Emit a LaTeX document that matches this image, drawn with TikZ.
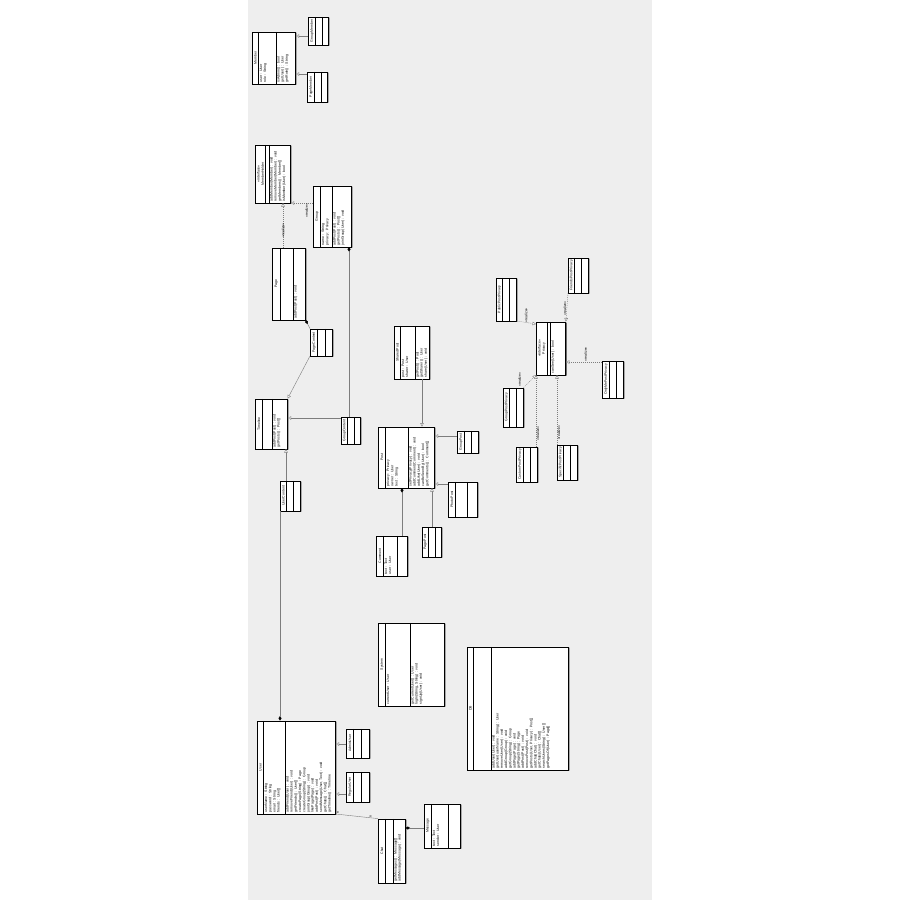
\documentclass[tikz,border=0pt]{standalone}
\usepackage{fontspec}
\setmainfont{Liberation Sans}
\usetikzlibrary{shapes.multipart,arrows.meta,shadows}
\definecolor{canvasgray}{RGB}{238,238,238}
\definecolor{linegray}{RGB}{125,125,125}
\newcommand{\classfont}{\fontsize{3.5}{4.2}\selectfont}
\newcommand{\ctitle}[2]{\parbox[c][#1pt][c]{\linewidth}{\centering #2}}
\newcommand{\cbody}[2]{\parbox[c][#1pt][t]{\linewidth}{\raggedright\leftskip=1.5pt\vspace*{0.8pt}#2}}
\begin{document}
\begin{tikzpicture}[x=1pt,y=-1pt,
  umlclass/.style={rectangle split, rectangle split parts=3, draw=black, fill=white,
    rotate=90, anchor=north west, inner sep=0pt, text width=#1pt, font=\classfont,
    drop shadow={shadow xshift=0.9pt, shadow yshift=-0.9pt, fill=black!85, opacity=1}},
  inherit/.style={draw=linegray, -{Triangle[open, fill=white, length=3.5pt, width=3.5pt]}},
  realize/.style={inherit, dash pattern=on 1pt off 1pt},
  compose/.style={draw=linegray, -{Diamond[length=4.5pt, width=3pt, color=black]}},
  assoc/.style={draw=linegray},
  lbl/.style={font=\classfont, rotate=90, inner sep=0.5pt}]
\useasboundingbox (0,0) rectangle (900,900);
\fill[canvasgray] (248,0) rectangle (652,900);

% members
\node[umlclass=52] (member) at (252,84) {\ctitle{6}{Member}\nodepart{two}\cbody{17}{user : User\\role : String}\nodepart{three}\cbody{19}{isAdmin() : bool\\getUser() : User\\getRole() : String}};
\node[umlclass=28] (groupmember) at (308,45) {\ctitle{7}{GroupMember}\nodepart{two}\cbody{6}{}\nodepart{three}\cbody{6}{}};
\node[umlclass=30] (pagemember) at (307,102) {\ctitle{7}{PageMember}\nodepart{two}\cbody{6}{}\nodepart{three}\cbody{6}{}};

% groups and pages
\node[umlclass=58] (memberholder) at (255,203) {\ctitle{10}{«interface»\\MemberHolder}\nodepart{two}\cbody{3}{}\nodepart{three}\cbody{21}{addMember(Member) : void\\removeMember(Member) : void\\getMembers() : Member[]\\isMember(User) : bool}};
\node[umlclass=61] (group) at (313,247) {\ctitle{7}{Group}\nodepart{two}\cbody{11}{name : String\\privacy : Privacy}\nodepart{three}\cbody{19}{addPost(Post) : void\\getPosts() : Post[]\\joinGroup(User) : void}};
\node[umlclass=72] (page) at (272,320) {\ctitle{8}{Page}\nodepart{two}\cbody{12}{}\nodepart{three}\cbody{12}{addPost(Post) : void}};
\node[umlclass=27] (pagecontent) at (310,356) {\ctitle{7}{PageContent}\nodepart{two}\cbody{7}{}\nodepart{three}\cbody{7}{}};
\node[umlclass=50] (timeline) at (255,449) {\ctitle{7}{Timeline}\nodepart{two}\cbody{9}{}\nodepart{three}\cbody{15}{addPost(Post) : void\\getPosts() : Post[]}};
\node[umlclass=27] (groupcontent) at (341,444) {\ctitle{6}{GroupContent}\nodepart{two}\cbody{6}{}\nodepart{three}\cbody{6}{}};
\node[umlclass=30] (usercontent) at (280,511) {\ctitle{6}{UserContent}\nodepart{two}\cbody{6}{}\nodepart{three}\cbody{7}{}};

% posts
\node[umlclass=53] (sharedpost) at (394,379) {\ctitle{6}{SharedPost}\nodepart{two}\cbody{14}{post : Post\\sharer : User}\nodepart{three}\cbody{14}{getPost() : Post\\getSharer() : User\\share(User) : void}};
\node[umlclass=61] (post) at (378,488) {\ctitle{7}{Post}\nodepart{two}\cbody{22}{privacy : Privacy\\owner : User\\text : String}\nodepart{three}\cbody{26}{setPrivacy(Privacy) : void\\addComment(Comment) : void\\addLike(User) : void\\canBeSeenBy(User) : bool\\getComments() : Comment[]}};
\node[umlclass=22] (grouppost) at (457,453) {\ctitle{7}{GroupPost}\nodepart{two}\cbody{6}{}\nodepart{three}\cbody{7}{}};
\node[umlclass=35] (photopost) at (448,517) {\ctitle{7}{PhotoPost}\nodepart{two}\cbody{11}{}\nodepart{three}\cbody{10}{}};
\node[umlclass=30] (pagepost) at (422,557) {\ctitle{6}{PagePost}\nodepart{two}\cbody{6}{}\nodepart{three}\cbody{6}{}};
\node[umlclass=40] (comment) at (376,576) {\ctitle{7}{Comment}\nodepart{two}\cbody{13}{text : Text\\user : User}\nodepart{three}\cbody{10}{}};

% privacy
\node[umlclass=53] (privacy) at (536,375) {\ctitle{11}{«interface»\\Privacy}\nodepart{two}\cbody{2}{}\nodepart{three}\cbody{15}{canSee(User) : bool}};
\node[umlclass=43] (publicprivacy) at (496,321) {\ctitle{6}{PublicPostPrivacy}\nodepart{two}\cbody{6}{}\nodepart{three}\cbody{7}{}};
\node[umlclass=35] (friendsprivacy) at (568,293) {\ctitle{6}{FriendsPostPrivacy}\nodepart{two}\cbody{6}{}\nodepart{three}\cbody{7}{}};
\node[umlclass=37] (onlymeprivacy) at (602,398) {\ctitle{7}{OnlyMePostPrivacy}\nodepart{two}\cbody{6}{}\nodepart{three}\cbody{7}{}};
\node[umlclass=39] (groupprivacy) at (503,427) {\ctitle{6}{GroupPostPrivacy}\nodepart{two}\cbody{6}{}\nodepart{three}\cbody{7}{}};
\node[umlclass=35] (customprivacy) at (516,482) {\ctitle{7}{CustomPostPrivacy}\nodepart{two}\cbody{6}{}\nodepart{three}\cbody{7}{}};
\node[umlclass=35] (specificprivacy) at (557,480) {\ctitle{6}{SpecificPostPrivacy}\nodepart{two}\cbody{6}{}\nodepart{three}\cbody{7}{}};

% system
\node[umlclass=83] (system) at (378,706) {\ctitle{7}{System}\nodepart{two}\cbody{24}{currentUser : User}\nodepart{three}\cbody{34}{getCurrentUser() : User\\logIn(String, String) : void\\signUp(User) : void}};
\node[umlclass=123] (db) at (467,770) {\ctitle{6}{DB}\nodepart{two}\cbody{17}{}\nodepart{three}\cbody{77}{addUser(User) : void\\getUser(userName : String) : User\\removeUser(User) : void\\addGroup(Group) : void\\getGroup(String) : Group\\addPage(Page) : void\\getPage(String) : Page\\addPost(Post) : void\\removePost(Post) : void\\getPosts(User, Privacy) : Post[]\\addChat(Chat) : void\\getChats(User) : Chat[]\\searchUsers(String) : User[]\\getPagesOf(User) : Page[]}};

% users and chats
\node[umlclass=93] (user) at (257,814) {\ctitle{6}{User}\nodepart{two}\cbody{21}{userName : String\\password : String\\email : String\\friends : User[]}\nodepart{three}\cbody{50}{addFriend(User) : void\\removeFriend(User) : void\\getFriends() : User[]\\createPage(String) : Page\\createGroup(String) : Group\\joinGroup(Group) : void\\likePage(Page) : void\\addPost(Post) : void\\sendMessage(User, Text) : void\\getChats() : Chat[]\\getTimeline() : Timeline}};
\node[umlclass=29] (adminuser) at (346,758) {\ctitle{7}{AdminUser}\nodepart{two}\cbody{7}{}\nodepart{three}\cbody{8}{}};
\node[umlclass=30] (regularuser) at (346,802) {\ctitle{7}{RegularUser}\nodepart{two}\cbody{7}{}\nodepart{three}\cbody{8}{}};
\node[umlclass=64] (chat) at (378,883) {\ctitle{7}{Chat}\nodepart{two}\cbody{7}{}\nodepart{three}\cbody{12}{getMessages() : Message[]\\addMessage(Message) : void}};
\node[umlclass=44] (message) at (424,848) {\ctitle{7}{Message}\nodepart{two}\cbody{16}{text : Text\\sender : User}\nodepart{three}\cbody{12}{}};

% connectors
\draw[inherit] (groupmember.north |- 0,36) -- (member.south |- 0,36);
\draw[inherit] (pagemember.north |- 0,74) -- (member.south |- 0,74);
\draw[realize] (page.east -| 283,0) -- (memberholder.west -| 283,0) node[lbl, midway, xshift=-5pt] {«realize»};
\draw[realize] (group.north |- 0,203) -- (memberholder.south |- 0,203) node[lbl, pos=0.42, anchor=east, yshift=-3pt] {«realize»};
\draw[compose] (pagecontent.north east) -- (page.south west);
\draw[inherit] (pagecontent.north west) -- (timeline.south east);
\draw[inherit] (groupcontent.north |- 0,418) -- (timeline.south |- 0,418);
\draw[compose] (groupcontent.east -| 349,0) -- (group.west -| 349,0);
\draw[inherit] (usercontent.east -| 286,0) -- (timeline.west -| 286,0);
\draw[compose] (usercontent.west -| 280,0) -- (user.east -| 280,0);

\draw[inherit] (sharedpost.west -| 422,0) -- (post.east -| 422,0);
\draw[inherit] (grouppost.north |- 0,436) -- (post.south |- 0,436);
\draw[inherit] (photopost.north |- 0,484) -- (post.south |- 0,484);
\draw[inherit] (pagepost.east -| 432,0) -- (post.west -| 432,0);
\draw[compose] (comment.east -| 402,0) -- (post.west -| 402,0);

\draw[realize] (publicprivacy.south west) -- (privacy.north |- 0,324) node[lbl, pos=0.65, anchor=west, yshift=3pt] {«realize»};
\draw[realize] (friendsprivacy.north west) -- (privacy.south east) node[lbl, midway, anchor=south, xshift=-1pt] {«realize»};
\draw[realize] (onlymeprivacy.north |- 0,362) -- (privacy.south |- 0,362) node[lbl, pos=0.37, anchor=west, yshift=3pt] {«realize»};
\draw[realize] (groupprivacy.south east) -- (privacy.north west) node[lbl, pos=0, anchor=west, yshift=4pt] {«realize»};
\draw[realize] (customprivacy.east -| 536,0) -- (privacy.west -| 536,0) node[lbl, pos=0.17, anchor=north, xshift=1pt] {«realize»};
\draw[realize] (specificprivacy.east -| 557,0) -- (privacy.west -| 557,0) node[lbl, pos=0.14, anchor=north, xshift=2pt] {«realize»};

\draw[inherit] (adminuser.north |- 0,744) -- (user.south |- 0,744);
\draw[inherit] (regularuser.north |- 0,794) -- (user.south |- 0,794);
\draw[assoc] (user.south west) -- (chat.north east) node[lbl, pos=0.08, anchor=west, yshift=1pt] {n} node[lbl, pos=0.85, anchor=west, yshift=1pt] {n};
\draw[compose] (message.north |- 0,828) -- (chat.south |- 0,828);
\end{tikzpicture}
\end{document}
